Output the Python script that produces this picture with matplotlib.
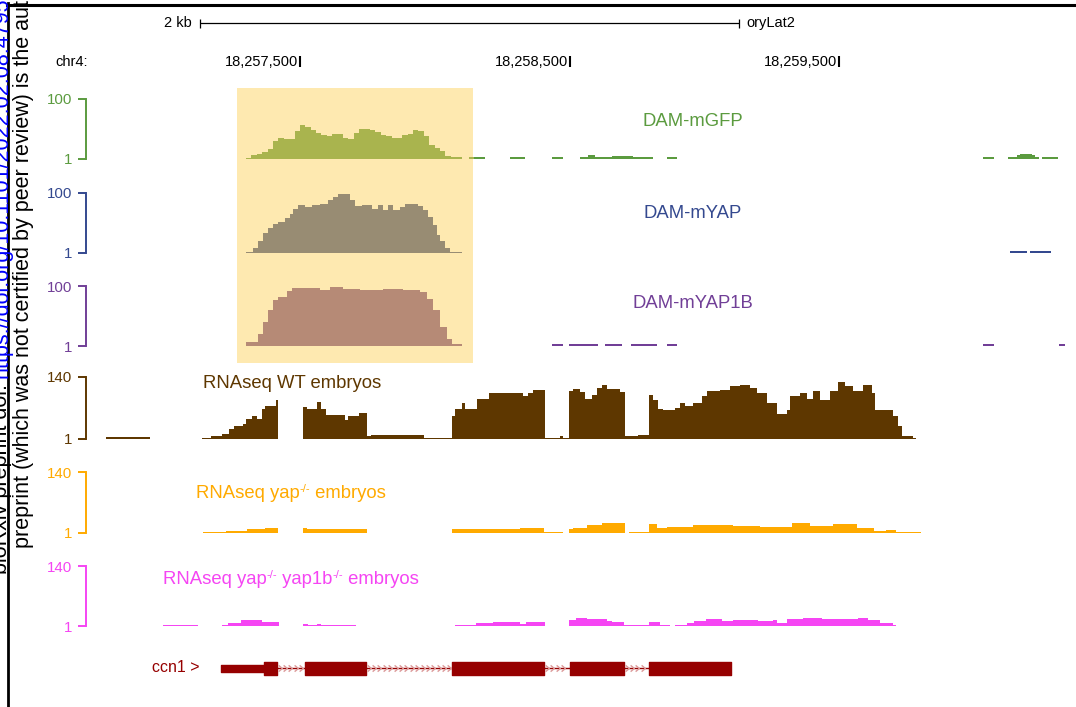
import numpy as np
import matplotlib.pyplot as plt
from matplotlib.lines import Line2D
from matplotlib.path import Path
from matplotlib.patches import Rectangle

plt.rcParams["font.family"] = ["Liberation Sans", "DejaVu Sans"]

W, H = 1076, 707
nan = np.nan

# all positions are bp offsets from REGION_START (chr4, oryLat2)
REGION_START = 18_256_000
VIEW = (385, 4378)
ruler_ticks = [1500, 2500, 3500]
scale_bar = (1128, 2000)
highlight = (1264, 2140)

# DAM-mGFP: peak in 20 bp bins, then sparse low stretches
gfp_peak_start = 1298
gfp_bin = 20
gfp_peak = [2.6, 7.6, 9.8, 13, 17.5, 31, 35, 34, 34, 46.5, 57.6, 53.8, 48.3, 43.9,
            41, 38.4, 42.7, 42.7, 35.6, 34, 43.9, 50.5, 51, 48.3, 44.9, 41, 39.5,
            35.6, 36.2, 40.6, 41.6, 49.4, 46.5, 39.5, 24.6, 19.2, 13.6, 6.4, 4.3, 3.7]
gfp_low_edges = [2125, 2185, 2277, 2333, 2433, 2474, 2537, 2567, 2593, 2656, 2734, 2808,
                 2860, 2897, 4033, 4073, 4125, 4159, 4170, 4214, 4225, 4240, 4251, 4311]
gfp_low_vals = [4, nan, 4, nan, 4, nan, 4, 7.5, 4.5, 6, 4, nan, 4, nan, 4, nan,
                4, 7, 10, 7, 4, nan, 4]

# DAM-mYAP
yap_edges = [1298, 1324, 1342, 1361, 1379, 1398, 1417, 1443, 1461, 1472, 1491, 1517,
             1543, 1572, 1602, 1621, 1639, 1684, 1702, 1728, 1765, 1788, 1806, 1825,
             1843, 1869, 1888, 1906, 1936, 1955, 1973, 1992, 2007, 2018, 2036, 2055, 2099]
yap_vals = [2.1, 9.2, 20.1, 33.6, 41.8, 48.8, 52.7, 58, 66, 74, 79.7, 77, 81, 82.5,
            88, 94, 97.7, 88, 78, 81, 74, 79.7, 71.6, 81, 72.7, 77, 82.5, 82.5, 78,
            72.7, 60.8, 47, 30.8, 20, 9.2, 3.1]
yap_low_edges = [4133, 4196, 4207, 4285]
yap_low_vals = [4, nan, 4]

# DAM-mYAP1B
yap1b_edges = [1298, 1342, 1361, 1379, 1398, 1417, 1450, 1468, 1498, 1572, 1610, 1658,
               1721, 1806, 1880, 1943, 1969, 1992, 2018, 2044, 2062, 2099]
yap1b_vals = [8, 21, 41, 60, 77, 82, 92, 97, 96, 94, 98, 95, 94, 95, 93, 90, 79, 60,
              33, 13, 4]
yap1b_low_edges = [2433, 2474, 2496, 2604, 2630, 2693, 2726, 2823, 2860, 2897, 4033,
                   4073, 4315, 4337]
yap1b_low_vals = [4, nan, 4, nan, 4, nan, 4, nan, 4, nan, 4, nan, 4]

# RNAseq WT embryos
wt_edges = [778, 942, 1135, 1168, 1209, 1235, 1253, 1287, 1298, 1320, 1339, 1357, 1368,
            1409, 1417, 1509, 1524, 1561, 1576, 1595, 1665, 1676, 1717, 1747, 1762,
            1958, 2062, 2073, 2099, 2110, 2155, 2199, 2225, 2326, 2344, 2363, 2407,
            2463, 2474, 2496, 2511, 2537, 2556, 2582, 2600, 2619, 2637, 2686, 2704,
            2752, 2793, 2808, 2827, 2845, 2890, 2908, 2927, 2956, 2990, 3008, 3057,
            3094, 3131, 3168, 3194, 3231, 3268, 3305, 3316, 3353, 3379, 3402, 3428,
            3465, 3494, 3520, 3550, 3587, 3621, 3632, 3699, 3717, 3732, 3773, 3784]
wt_vals = [4.8, nan,
           4.2, 7, 11.8, 22.7, 29.2, 34.6, 46.5, 53, 46.5, 68, 75.8, 87.7, nan,
           72.5, 68, 83, 68, 55, 44.3, 53, 59.5,
           7, 9, 3,
           53, 68, 81, 68, 89.7, 105, 104, 96.6, 104, 110,
           3.2, 7.7, 3.2,
           108, 113, 105.6, 90.6, 99.6, 115, 122, 113, 106,
           8.4, 10.6,
           99.6, 88.4, 68.2, 65.3, 70.4, 81.6, 74.2, 81.6, 96.6, 107.8, 111.4, 119,
           122.6, 115.2, 104, 81.6, 57.7, 66, 96.6, 104, 90.6, 107.8, 88.4, 107.8,
           128, 119, 107.8, 122.6, 104, 66.6, 51.8, 29.4, 7, 3.2]

# RNAseq yap-/- embryos
mut_edges = [1138, 1224, 1302, 1368, 1417, 1509, 1524, 1747, 2062, 2315, 2404, 2474,
             2496, 2511, 2563, 2619, 2704, 2719, 2793, 2823, 2860, 2956, 3105, 3205,
             3324, 3391, 3476, 3565, 3628, 3673, 3710, 3802]
mut_vals = [3.2, 4.8, 10, 12.9, nan, 12.9, 10, nan, 11, 11.5, 3.2, nan, 10, 12.9,
            18.2, 24, nan, 3.2, 20.5, 11.5, 13.8, 19, 17.4, 14.4, 24, 17.4, 21.8,
            12.9, 4.8, 8.4, 3.2]

# RNAseq yap-/- yap1b-/- embryos
dbl_edges = [990, 1120, 1209, 1231, 1279, 1357, 1420, 1509, 1528, 1561, 1576, 1706,
             2073, 2151, 2214, 2315, 2337, 2407, 2496, 2522, 2563, 2619, 2637, 2656,
             2700, 2793, 2834, 2871, 2890, 2934, 2960, 3005, 3064, 3105, 3198, 3253,
             3268, 3305, 3365, 3435, 3569, 3606, 3650, 3699, 3710]
dbl_vals = [3.4, nan, 3.4, 8.8, 15.9, 10.4, nan, 6.4, 3.4, 4.5, 3.4, nan, 3.4, 8.8,
            10.4, 6.4, 9.7, nan, 14.5, 19.2, 16.8, 18.2, 12.8, 9.7, 3.4, 9.7, 3.4, nan,
            3.4, 8.1, 12.1, 16.8, 12.8, 14.5, 12.1, 14.5, 7.4, 16.8, 20.6, 17.5, 19.2,
            14.5, 7.4, 3.4]

# ccn1 gene model
ccn1_utr = [(1205, 161)]
ccn1_exons = [(1366, 47), (1515, 228), (2062, 342), (2500, 200), (2793, 304)]

fig = plt.figure(figsize=(W / 100, H / 100), dpi=100)
renderer = fig.canvas.get_renderer()

# background layer: rows in pixels from the top, x in bp
bg = fig.add_axes([0, 0, 1, 1])
bg.set_xlim(*VIEW)
bg.set_ylim(H, 0)
bg.axis("off")


def ftext(x, y, s, **kw):
    return fig.text(x / W, 1 - y / H, s, **kw)


def label_with_sup(x, y, parts, color, size=13.3):
    # parts alternate normal text and superscripts
    for i, s in enumerate(parts):
        sup = i % 2 == 1
        t = ftext(x, y - (5 if sup else 0), s, color=color,
                  fontsize=size * 0.6 if sup else size, ha="left", va="center")
        x += t.get_window_extent(renderer).width


def draw_steps(a, edges, vals, color):
    edges = np.asarray(edges, float)
    vals = np.asarray(vals, float)
    ok = ~np.isnan(vals)
    out = []
    i = 0
    while i < len(vals):
        if not ok[i]:
            i += 1
            continue
        j = i
        while j < len(vals) and ok[j]:
            j += 1
        x = edges[i:j + 1]
        y = np.append(vals[i:j], vals[j - 1])
        out.append(a.fill_between(x, 1, y, step="post", color=color, lw=0))
        i = j
    return out


def track_axes(top, base, ymax, color):
    a = fig.add_axes([0, 1 - base / H, 1, (base - top) / H])
    a.set_xlim(*VIEW)
    a.set_ylim(1, ymax)
    a.patch.set_visible(False)
    for s in ("top", "right", "bottom"):
        a.spines[s].set_visible(False)
    a.spines["left"].set_position(("axes", 85.5 / W))
    a.spines["left"].set_color(color)
    a.spines["left"].set_linewidth(1.4)
    a.set_xticks([])
    a.set_yticks([1, ymax])
    a.set_yticklabels(["1", str(ymax)])
    a.tick_params(axis="y", colors=color, length=5.8, width=1.4, pad=3.5, labelsize=10.8)
    return a


# highlight box behind the DAM tracks
bg.add_patch(Rectangle((highlight[0], 88), highlight[1] - highlight[0], 275,
                       facecolor="#fee9b0", lw=0, zorder=0))

# DAM tracks
dam_tracks = [
    ("DAM-mGFP", 99, 159, "#5b9b3f", "#a9b44e", 122,
     gfp_peak_start + gfp_bin * np.arange(len(gfp_peak) + 1), gfp_peak,
     gfp_low_edges, gfp_low_vals),
    ("DAM-mYAP", 193, 253, "#34498f", "#988c73", 213,
     yap_edges, yap_vals, yap_low_edges, yap_low_vals),
    ("DAM-mYAP1B", 286, 346, "#713f97", "#b68a76", 304,
     yap1b_edges, yap1b_vals, yap1b_low_edges, yap1b_low_vals),
]
for name, top, base, color, tint, ly, pe, pv, le, lv in dam_tracks:
    a = track_axes(top, base, 100, color)
    for e, v in ((pe, pv), (le, lv)):
        draw_steps(a, e, v, color)
        box = Rectangle((highlight[0], 0), highlight[1] - highlight[0], 200,
                        transform=a.transData)
        for p in draw_steps(a, e, v, tint):
            p.set_clip_path(box)
    ftext(693, ly, name, color=color, fontsize=13.3, ha="center", va="center")

# RNAseq tracks
rna_tracks = [
    (["RNAseq WT embryos"], 377, 439, "#5e3700", wt_edges, wt_vals, 203, 384),
    (["RNAseq yap", "-/-", " embryos"], 472, 533, "#ffaa00", mut_edges, mut_vals,
     196, 494),
    (["RNAseq yap", "-/-", " yap1b", "-/-", " embryos"], 566, 626, "#f545f3",
     dbl_edges, dbl_vals, 163, 580),
]
for parts, top, base, color, e, v, lx, ly in rna_tracks:
    a = track_axes(top, base, 140, color)
    draw_steps(a, e, v, color)
    label_with_sup(lx, ly, parts, color)

# gene model
gene_color = "#960000"
g0 = ccn1_utr[0][0]
g1 = ccn1_exons[-1][0] + ccn1_exons[-1][1]
bg.hlines(668, g0, g1, color=gene_color, lw=1)
chevron = Path([(-0.6, -1), (0.6, 0), (-0.6, 1)],
               [Path.MOVETO, Path.LINETO, Path.LINETO])
for (s0, w0), (s1, _) in zip(ccn1_exons[:-1], ccn1_exons[1:]):
    xs = np.arange(s0 + w0 + 10, s1 - 6, 20)
    bg.plot(xs, np.full(len(xs), 668), ls="none", marker=chevron, ms=4.5,
            mfc="none", mec="#dc9a9a", mew=1)
bg.broken_barh(ccn1_utr, (664.5, 7.5), color=gene_color)
bg.broken_barh(ccn1_exons, (662, 13), color=gene_color)
ftext(200, 668, "ccn1 >", color=gene_color, fontsize=11.5, ha="right", va="center")

# ruler
sb0, sb_len = scale_bar
bg.hlines(23, sb0, sb0 + sb_len, color="black", lw=0.9)
bg.vlines([sb0, sb0 + sb_len], 19, 28, color="black", lw=0.9)
bg.annotate("2 kb", (sb0, 23), xytext=(-6, 0), textcoords="offset points",
            ha="right", va="center", fontsize=10.5)
bg.annotate("oryLat2", (sb0 + sb_len, 23), xytext=(5, 0), textcoords="offset points",
            ha="left", va="center", fontsize=10.5)
bg.vlines(ruler_ticks, 56, 67, color="black", lw=1.5)
for t in ruler_ticks:
    bg.annotate(f"{REGION_START + t:,}", (t, 62), xytext=(-1.5, 0),
                textcoords="offset points", ha="right", va="center", fontsize=10.5)
ftext(55, 62, "chr4:", fontsize=10.5, ha="left", va="center")

# page margin with the preprint notice
ftext(29, 548, "preprint (which was not certified by peer review) is the author/funder, "
      "who has granted bioRxiv a license", rotation=90, rotation_mode="anchor",
      ha="left", va="baseline", fontsize=15.5)
ftext(7.5, 574, "bioRxiv preprint doi: ", rotation=90, rotation_mode="anchor",
      ha="left", va="baseline", fontsize=15.5)
ftext(7.5, 378, "https://doi.org/10.1101/2022.02.08.479567", color="#0000ff",
      rotation=90, rotation_mode="anchor", ha="left", va="baseline", fontsize=15.5)
fig.add_artist(Line2D([8 / W, 8 / W], [0, 1 - 3 / H], color="black", lw=2,
                      transform=fig.transFigure))
fig.add_artist(Line2D([7 / W, 1], [1 - 4.5 / H, 1 - 4.5 / H], color="black", lw=2.2,
                      transform=fig.transFigure))

fig.savefig("out.png", dpi=100)
